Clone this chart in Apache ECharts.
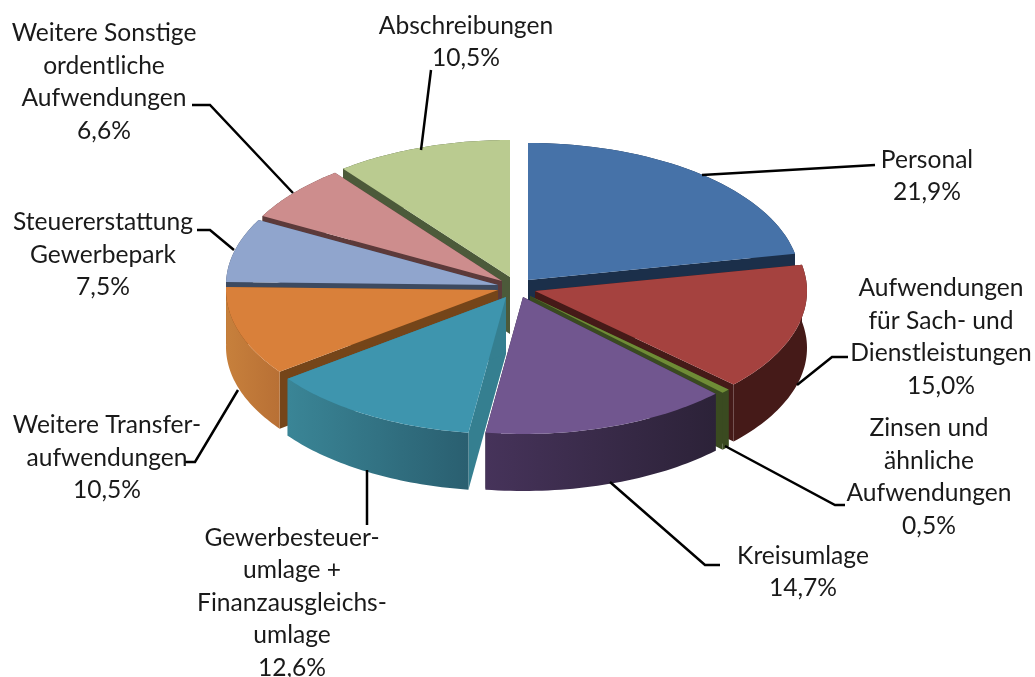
<!DOCTYPE html>
<html>
<head>
<meta charset="utf-8">
<title>Aufwendungen</title>
<script src="https://cdn.jsdelivr.net/npm/echarts@6/dist/echarts.min.js"></script>
<style>
  html, body { margin: 0; padding: 0; background: #fff; }
  #eChart { width: 1035px; height: 677px; }
</style>
</head>
<body>
<div id="eChart"></div>
<script>
// chart values, clockwise from 12 o'clock
const categories = [
  "Personal",
  "Aufwendungen\nfür Sach- und\nDienstleistungen",
  "Zinsen und\nähnliche\nAufwendungen",
  "Kreisumlage",
  "Gewerbesteuer-\numlage +\nFinanzausgleichs-\numlage",
  "Weitere Transfer-\naufwendungen",
  "Steuererstattung\nGewerbepark",
  "Weitere Sonstige\nordentliche\nAufwendungen",
  "Abschreibungen",
];
const shares = [21.9, 15.0, 0.5, 14.7, 12.6, 10.5, 7.5, 6.6, 10.5];

// the flattened "3D" look
const center = [515, 288];
const radiusX = 272;
const radiusY = 137;
const depth = 57;
const explode = [[13, -8], [20, 3], [15, 8], [8, 9], [-9, 9], [-17, 2], [-17, -3], [-13, -7], [-5, -11]];
const drawOrder = [8, 7, 6, 0, 5, 1, 2, 4, 3];

const topColors = ["#4672a8", "#a5423f", "#6f8c36", "#71568f", "#3e95ae", "#d9803a", "#90a5cd", "#cd8d8d", "#bacb90"];
const cutColors = ["#1b2f4a", "#451a18", "#3a4a20", "#2c2238", "#357f90", "#754519", "#3d4a60", "#5c3a3a", "#4c5a3a"];
const wallColors = [
  ["#1b2f4a", "#1b2f4a"],
  ["#451a18", "#451a18"],
  ["#3a4a20", "#3a4a20"],
  ["#46335a", "#2c2238"],
  ["#3a8596", "#2a5f70"],
  ["#c7803c", "#b87035"],
  ["#3d4a60", "#3d4a60"],
  ["#5c3a3a", "#5c3a3a"],
  ["#4c5a3a", "#4c5a3a"],
];

// label anchor (centre of the text block) and leader line per slice
const labelPos = [[927, 176], [941, 337], [929, 477], [803, 572], [292, 603], [107, 458], [103, 255], [104, 82], [466, 42]];
const leaders = [
  [[702, 175], [875, 165]],
  [[797, 385], [832, 357], [848, 357]],
  [[725, 446], [835, 505], [845, 505]],
  [[610, 482], [705, 565], [720, 565]],
  [[367, 470], [367, 525]],
  [[238, 390], [195, 462], [185, 462]],
  [[234, 250], [210, 230], [197, 230]],
  [[293, 193], [210, 105], [192, 105]],
  [[421, 150], [431, 70]],
];

const total = shares.reduce((a, b) => a + b, 0);

function rimPoint(apex, angle, dy) {
  return [apex[0] + radiusX * Math.sin(angle), apex[1] - radiusY * Math.cos(angle) + dy];
}

function arcPoints(apex, a0, a1, dy) {
  const pts = [];
  const steps = 40;
  for (let s = 0; s <= steps; s++) {
    pts.push(rimPoint(apex, a0 + ((a1 - a0) * s) / steps, dy));
  }
  return pts;
}

function renderSlice(params, api) {
  const i = api.value(0);
  const before = shares.slice(0, i).reduce((a, b) => a + b, 0);
  const a0 = (before / total) * Math.PI * 2;
  const a1 = ((before + api.value(1)) / total) * Math.PI * 2;
  const apex = [center[0] + explode[i][0], center[1] + explode[i][1]];
  const apexLow = [apex[0], apex[1] + depth];
  const z = drawOrder.indexOf(i) * 10;
  const top = arcPoints(apex, a0, a1, 0);
  const low = arcPoints(apex, a0, a1, depth);

  const cut = (p, q) => ({
    type: "polygon",
    z2: z + 1,
    shape: { points: [apex, p, q, apexLow] },
    style: { fill: cutColors[i] },
  });

  return {
    type: "group",
    children: [
      cut(top[0], low[0]),
      cut(top[top.length - 1], low[low.length - 1]),
      {
        type: "polygon",
        z2: z + 2,
        shape: { points: top.concat(low.slice().reverse()) },
        style: {
          fill: new echarts.graphic.LinearGradient(0, 0, 1, 0, [
            { offset: 0, color: wallColors[i][0] },
            { offset: 1, color: wallColors[i][1] },
          ]),
        },
      },
      {
        type: "polygon",
        z2: z + 3,
        shape: { points: [apex].concat(top) },
        style: { fill: topColors[i] },
      },
      {
        type: "polyline",
        z2: 200,
        shape: { points: leaders[i] },
        style: { stroke: "#000", lineWidth: 2.5, fill: null },
      },
      {
        type: "text",
        z2: 210,
        style: {
          text: categories[i] + "\n" + shares[i].toFixed(1).replace(".", ",") + "%",
          x: labelPos[i][0],
          y: labelPos[i][1],
          align: "center",
          verticalAlign: "middle",
          font: "24.6px Lato",
          lineHeight: 32.5,
          fill: "#1a1a1a",
        },
      },
    ],
  };
}

const myChart = echarts.init(document.getElementById("eChart"), null, {
  renderer: "canvas",
});
myChart.setOption({
  animation: false,
  backgroundColor: "#fff",
  series: [
    {
      type: "custom",
      coordinateSystem: "none",
      renderItem: renderSlice,
      data: shares.map((v, i) => [i, v]),
    },
  ],
});
</script>
</body>
</html>
